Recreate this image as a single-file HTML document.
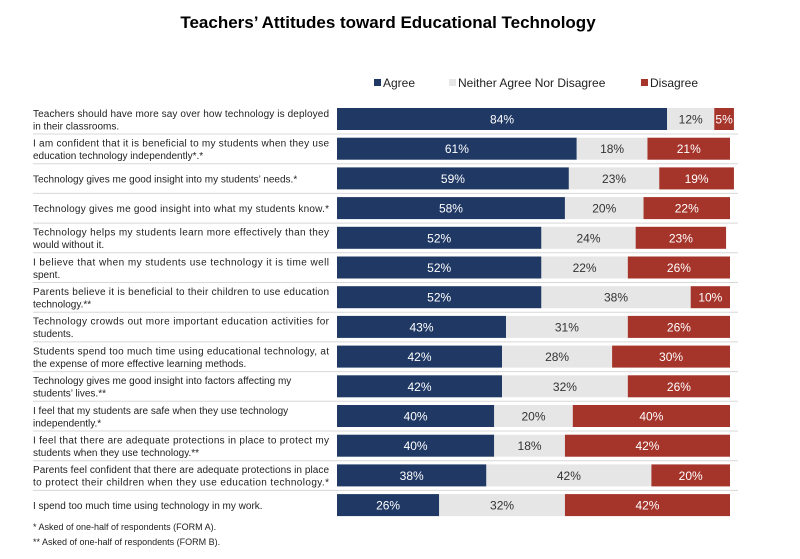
<!DOCTYPE html>
<html><head><meta charset="utf-8"><style>
body{margin:0;background:#fff;font-family:"Liberation Sans",Arial,sans-serif;}
svg text{font-family:"Liberation Sans",Arial,sans-serif;}
</style></head><body>
<svg id="c" width="800" height="554">
<text x="388" y="28" text-anchor="middle" font-size="17" font-weight="bold" fill="#000">Teachers’ Attitudes toward Educational Technology</text>
<g font-size="12" fill="#222">
<rect x="374" y="79" width="7" height="7" fill="#1f3864"/>
<text x="383" y="87">Agree</text>
<rect x="449" y="79" width="7" height="7" fill="#e6e6e6"/>
<text x="458" y="87">Neither Agree Nor Disagree</text>
<rect x="641" y="79" width="7" height="7" fill="#a5342a"/>
<text x="650" y="87">Disagree</text>
</g>
<g id="rows"></g>
<text x="33" y="530" font-size="9" fill="#222">* Asked of one-half of respondents (FORM A).</text>
<text x="33" y="545" font-size="9" fill="#222">** Asked of one-half of respondents (FORM B).</text>
</svg>
<script>
const categories=[
["Teachers should have more say over how technology is deployed","in their classrooms."],
["I am confident that it is beneficial to my students when they use","education technology independently*.*"],
["Technology gives me good insight into my students’ needs.*"],
["Technology gives me good insight into what my students know.*"],
["Technology helps my students learn more effectively than they","would without it."],
["I believe that when my students use technology it is time well","spent."],
["Parents believe it is beneficial to their children to use education","technology.**"],
["Technology crowds out more important education activities for","students."],
["Students spend too much time using educational technology, at","the expense of more effective learning methods."],
["Technology gives me good insight into factors affecting my","students’ lives.**"],
["I feel that my students are safe when they use technology","independently.*"],
["I feel that there are adequate protections in place to protect my","students when they use technology.**"],
["Parents feel confident that there are adequate protections in place","to protect their children when they use education technology.*"],
["I spend too much time using technology in my work."]];
const agree=[84,61,59,58,52,52,52,43,42,42,40,40,38,26];
const neither=[12,18,23,20,24,22,38,31,28,32,20,18,42,32];
const disagree=[5,21,19,22,23,26,10,26,30,26,40,42,20,42];
const NS="http://www.w3.org/2000/svg";
const g=document.getElementById('rows');
const x0=337,pxPer=3.93,top0=108,pitch=29.7,bh=22;
const xs=v=>v*pxPer;
function mk(t,a){const e=document.createElementNS(NS,t);for(const k in a)e.setAttribute(k,a[k]);return e;}
const series=[[agree,"#1f3864","#fff","agree"],[neither,"#e6e6e6","#333","neither"],[disagree,"#a5342a","#fff","disagree"]];
categories.forEach((lines,i)=>{
  const y=top0+i*pitch;
  const cy=y+bh/2;
  const n=lines.length;
  lines.forEach((l,j)=>{
    const t=mk('text',{x:33,y:cy+4+(j-(n-1)/2)*12.5,'font-size':10,fill:'#222',textLength:l.length>60?296:null});
    if(l.length<=60)t.removeAttribute('textLength');
    t.textContent=l;
    
    
    g.appendChild(t);
  });
  if(i<categories.length-1){
    const ln=mk('line',{x1:33,x2:738,y1:y+bh+4,y2:y+bh+4,stroke:'#d8d8d8','stroke-width':1});
    
    
    g.appendChild(ln);
  }
  let acc=0;
  series.forEach(([arr,col,tc,nm])=>{
    const v=arr[i];
    const r=mk('rect',{x:x0+xs(acc),y:y,width:xs(v),height:bh,fill:col});
    
    
    g.appendChild(r);
    const t=mk('text',{x:x0+xs(acc+v/2),y:cy+4.5,'font-size':12,fill:tc,'text-anchor':'middle'});
    t.textContent=v+'%';
    
    
    g.appendChild(t);
    acc+=v;
  });
});
</script>
</body></html>
